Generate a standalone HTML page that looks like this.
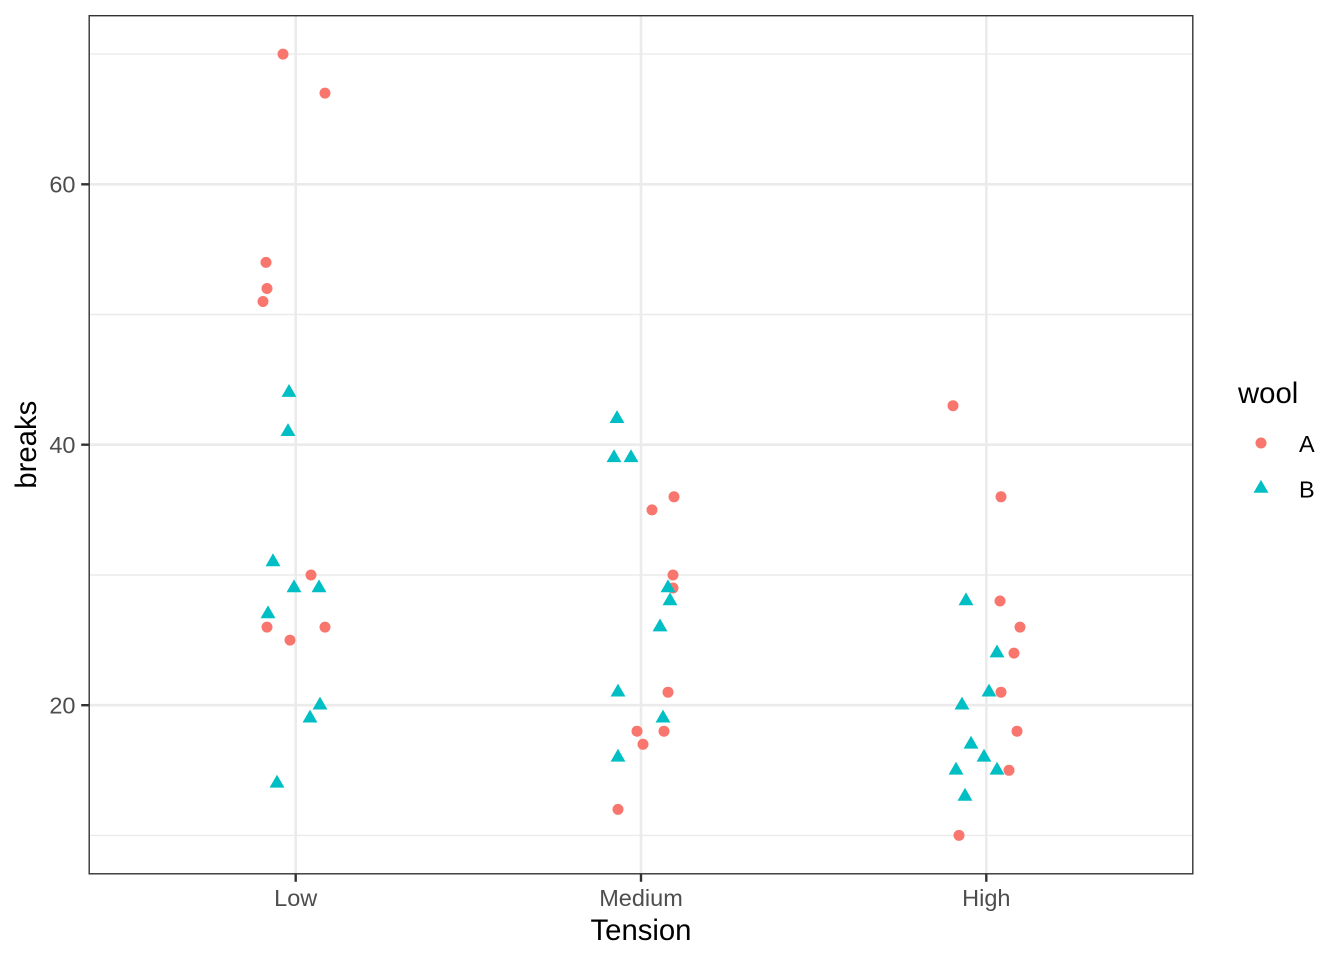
<!DOCTYPE html>
<html>
<head>
<meta charset="utf-8">
<style>
  html, body { margin:0; padding:0; background:#ffffff; }
  svg { display:block; }
  text { font-family: "Liberation Sans", Arial, sans-serif; }
</style>
</head>
<body>
<svg width="1344" height="960" viewBox="0 0 1344 960" xmlns="http://www.w3.org/2000/svg">
  <rect x="0" y="0" width="1344" height="960" fill="#ffffff"/>
  <rect x="88.5" y="15" width="1105" height="859.5" fill="#ffffff"/>
  <g stroke="#EBEBEB" stroke-width="1.4">
    <line x1="88.5" x2="1193.5" y1="835.4" y2="835.4"/>
    <line x1="88.5" x2="1193.5" y1="575.0" y2="575.0"/>
    <line x1="88.5" x2="1193.5" y1="314.5" y2="314.5"/>
    <line x1="88.5" x2="1193.5" y1="54.1" y2="54.1"/>
  </g>
  <g stroke="#EBEBEB" stroke-width="2.6">
    <line x1="88.5" x2="1193.5" y1="184.3" y2="184.3"/>
    <line x1="88.5" x2="1193.5" y1="444.7" y2="444.7"/>
    <line x1="88.5" x2="1193.5" y1="705.2" y2="705.2"/>
    <line y1="15" y2="874.5" x1="295.7" x2="295.7"/>
    <line y1="15" y2="874.5" x1="641" x2="641"/>
    <line y1="15" y2="874.5" x1="986.3" x2="986.3"/>
  </g>

  <g fill="#F8766D">
    <circle cx="267" cy="627.1" r="5.5"/>
    <circle cx="311" cy="575.0" r="5.5"/>
    <circle cx="266" cy="262.4" r="5.5"/>
    <circle cx="290" cy="640.1" r="5.5"/>
    <circle cx="283" cy="54.1" r="5.5"/>
    <circle cx="267" cy="288.5" r="5.5"/>
    <circle cx="263" cy="301.5" r="5.5"/>
    <circle cx="325" cy="627.1" r="5.5"/>
    <circle cx="325" cy="93.1" r="5.5"/>
    <circle cx="637" cy="731.2" r="5.5"/>
    <circle cx="668" cy="692.2" r="5.5"/>
    <circle cx="673" cy="588.0" r="5.5"/>
    <circle cx="643" cy="744.3" r="5.5"/>
    <circle cx="618" cy="809.4" r="5.5"/>
    <circle cx="664" cy="731.2" r="5.5"/>
    <circle cx="652" cy="509.9" r="5.5"/>
    <circle cx="673" cy="575.0" r="5.5"/>
    <circle cx="674" cy="496.8" r="5.5"/>
    <circle cx="1001" cy="496.8" r="5.5"/>
    <circle cx="1001" cy="692.2" r="5.5"/>
    <circle cx="1014" cy="653.1" r="5.5"/>
    <circle cx="1017" cy="731.2" r="5.5"/>
    <circle cx="959" cy="835.4" r="5.5"/>
    <circle cx="953" cy="405.7" r="5.5"/>
    <circle cx="1000" cy="601.0" r="5.5"/>
    <circle cx="1009" cy="770.3" r="5.5"/>
    <circle cx="1020" cy="627.1" r="5.5"/>
  </g>

  <g fill="#00BFC4">
    <path d="M268,614.0 m0,-8.6 l7.45,12.9 h-14.9z"/>
    <path d="M277,783.3 m0,-8.6 l7.45,12.9 h-14.9z"/>
    <path d="M294,588.0 m0,-8.6 l7.45,12.9 h-14.9z"/>
    <path d="M310,718.2 m0,-8.6 l7.45,12.9 h-14.9z"/>
    <path d="M319,588.0 m0,-8.6 l7.45,12.9 h-14.9z"/>
    <path d="M273,561.9 m0,-8.6 l7.45,12.9 h-14.9z"/>
    <path d="M288,431.7 m0,-8.6 l7.45,12.9 h-14.9z"/>
    <path d="M320,705.2 m0,-8.6 l7.45,12.9 h-14.9z"/>
    <path d="M289,392.6 m0,-8.6 l7.45,12.9 h-14.9z"/>
    <path d="M617,418.7 m0,-8.6 l7.45,12.9 h-14.9z"/>
    <path d="M660,627.1 m0,-8.6 l7.45,12.9 h-14.9z"/>
    <path d="M663,718.2 m0,-8.6 l7.45,12.9 h-14.9z"/>
    <path d="M618,757.3 m0,-8.6 l7.45,12.9 h-14.9z"/>
    <path d="M614,457.8 m0,-8.6 l7.45,12.9 h-14.9z"/>
    <path d="M670,601.0 m0,-8.6 l7.45,12.9 h-14.9z"/>
    <path d="M618,692.2 m0,-8.6 l7.45,12.9 h-14.9z"/>
    <path d="M631,457.8 m0,-8.6 l7.45,12.9 h-14.9z"/>
    <path d="M668,588.0 m0,-8.6 l7.45,12.9 h-14.9z"/>
    <path d="M962,705.2 m0,-8.6 l7.45,12.9 h-14.9z"/>
    <path d="M989,692.2 m0,-8.6 l7.45,12.9 h-14.9z"/>
    <path d="M997,653.1 m0,-8.6 l7.45,12.9 h-14.9z"/>
    <path d="M971,744.3 m0,-8.6 l7.45,12.9 h-14.9z"/>
    <path d="M965,796.4 m0,-8.6 l7.45,12.9 h-14.9z"/>
    <path d="M956,770.3 m0,-8.6 l7.45,12.9 h-14.9z"/>
    <path d="M997,770.3 m0,-8.6 l7.45,12.9 h-14.9z"/>
    <path d="M984,757.3 m0,-8.6 l7.45,12.9 h-14.9z"/>
    <path d="M966,601.0 m0,-8.6 l7.45,12.9 h-14.9z"/>
  </g>

  <rect x="89.2" y="15.7" width="1103.6" height="858.1" fill="none" stroke="#333333" stroke-width="1.4"/>

  <g stroke="#333333" stroke-width="2.4">
    <line x1="81.2" x2="88.5" y1="184.3" y2="184.3"/>
    <line x1="81.2" x2="88.5" y1="444.7" y2="444.7"/>
    <line x1="81.2" x2="88.5" y1="705.2" y2="705.2"/>
    <line y1="874.5" y2="881.8" x1="295.7" x2="295.7"/>
    <line y1="874.5" y2="881.8" x1="641" x2="641"/>
    <line y1="874.5" y2="881.8" x1="986.3" x2="986.3"/>
  </g>

  <g fill="#4D4D4D" font-size="23.5" text-anchor="end">
    <text x="75.5" y="192.7">60</text>
    <text x="75.5" y="453.1">40</text>
    <text x="75.5" y="713.6">20</text>
  </g>
  <g fill="#4D4D4D" font-size="23.5" text-anchor="middle">
    <text x="295.7" y="906">Low</text>
    <text x="641" y="906">Medium</text>
    <text x="986.3" y="906">High</text>
  </g>

  <text x="641" y="940" font-size="29.3" text-anchor="middle" fill="#000000">Tension</text>
  <text transform="translate(36,444.7) rotate(-90)" font-size="29.3" text-anchor="middle" fill="#000000">breaks</text>

  <text x="1238" y="403" font-size="29.3" fill="#000000">wool</text>
  <circle cx="1261" cy="443" r="5.5" fill="#F8766D"/>
  <path d="M1261,488.5 m0,-8.6 l7.45,12.9 h-14.9z" fill="#00BFC4"/>
  <text x="1299" y="452" font-size="23.5" fill="#000000">A</text>
  <text x="1299" y="497.5" font-size="23.5" fill="#000000">B</text>
</svg>
</body>
</html>
